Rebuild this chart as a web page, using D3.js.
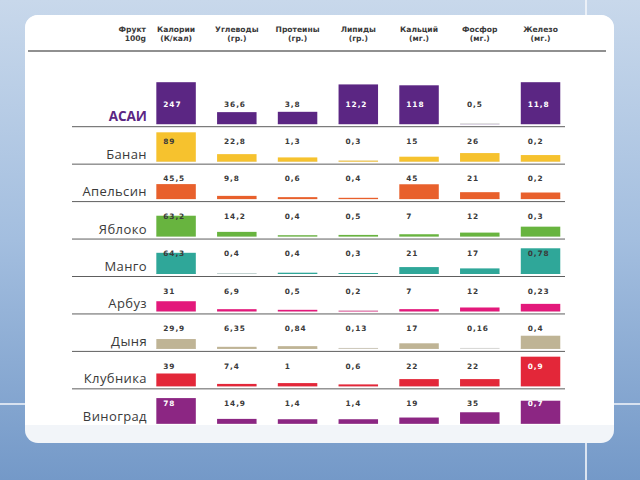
<!DOCTYPE html>
<html>
<head>
<meta charset="utf-8">
<script src="https://cdn.jsdelivr.net/npm/d3@7"></script>
<style>
  html, body { margin: 0; padding: 0; }
  body { width: 640px; height: 480px; overflow: hidden; }
</style>
</head>
<body>
<div id="chart"></div>
<script>
// data
var fruits = ["АСАИ", "Банан", "Апельсин", "Яблоко", "Манго", "Арбуз", "Дыня", "Клубника", "Виноград"];
var headers = [["Калории", "(К/кал)"], ["Углеводы", "(гр.)"], ["Протеины", "(гр.)"], ["Липиды", "(гр.)"],
               ["Кальций", "(мг.)"], ["Фосфор", "(мг.)"], ["Железо", "(мг.)"]];
var calories   = [247, 89, 45.5, 63.2, 64.3, 31, 29.9, 39, 78];
var carbs      = [36.6, 22.8, 9.8, 14.2, 0.4, 6.9, 6.35, 7.4, 14.9];
var protein    = [3.8, 1.3, 0.6, 0.4, 0.4, 0.5, 0.84, 1, 1.4];
var lipids     = [12.2, 0.3, 0.4, 0.5, 0.3, 0.2, 0.13, 0.6, 1.4];
var calcium    = [118, 15, 45, 7, 21, 7, 17, 22, 19];
var phosphorus = [0.5, 26, 21, 12, 17, 12, 0.16, 22, 35];
var iron       = [11.8, 0.2, 0.2, 0.3, 0.78, 0.23, 0.4, 0.9, 0.7];
var series = [calories, carbs, protein, lipids, calcium, phosphorus, iron];
// value that fills a normal row, per column
var scaleMax = [91, 91, 9.2, 9.2, 91, 91, 0.91];
var rowColors = ["#5b2683", "#f6c22e", "#e8602c", "#68b43f", "#2fa799", "#e3197b", "#bfb495", "#e32739", "#8c2683"];

var width = 640, height = 480;

var svg = d3.select("#chart").append("svg")
  .attr("width", width)
  .attr("height", height);

// background gradient
var defs = svg.append("defs");
var grad = defs.append("linearGradient").attr("id", "bg")
  .attr("x1", 0).attr("y1", 0).attr("x2", 0).attr("y2", 1);
grad.append("stop").attr("offset", "0%").attr("stop-color", "#c8d8eb");
grad.append("stop").attr("offset", "50%").attr("stop-color", "#a3bedf");
grad.append("stop").attr("offset", "100%").attr("stop-color", "#7499c8");
svg.append("rect").attr("width", width).attr("height", height).attr("fill", "url(#bg)");

// thin white frame lines behind the panel
svg.append("line").attr("x1", 586).attr("x2", 586).attr("y1", 0).attr("y2", height)
  .attr("stroke", "#f4f7fb").attr("stroke-width", 1.6);
svg.append("line").attr("x1", 0).attr("x2", width).attr("y1", 404).attr("y2", 404)
  .attr("stroke", "#f4f7fb").attr("stroke-width", 1.6);

// white panel
svg.append("rect").attr("x", 25).attr("y", 15).attr("width", 589).attr("height", 428)
  .attr("rx", 13).attr("fill", "#f2f5f9");
svg.append("path")
  .attr("d", "M25,28 a13,13 0 0 1 13,-13 H601 a13,13 0 0 1 13,13 V425 H25 Z")
  .attr("fill", "#ffffff");

// scales
var x = d3.scaleBand()
  .domain(d3.range(headers.length))
  .range([145.7, 570.9])
  .paddingInner(0.35)
  .paddingOuter(0.175);

var y = d3.scalePoint()
  .domain(fruits)
  .range([126.7, 426.3]);

var barScales = scaleMax.map(function(m) {
  return d3.scaleLinear().domain([0, m]).range([0, 30]);
});

function fmt(v) { return String(v).replace(".", ","); }

// header
var head = svg.append("g")
  .attr("font-family", "DejaVu Sans, sans-serif")
  .attr("font-weight", "bold")
  .attr("font-size", 7.6)
  .attr("fill", "#3a3a3a");

head.append("text").attr("x", 146).attr("y", 32).attr("text-anchor", "end").text("Фрукт");
head.append("text").attr("x", 146).attr("y", 41).attr("text-anchor", "end").text("100g");

headers.forEach(function(h, i) {
  var cx = x(i) + x.bandwidth() / 2;
  head.append("text").attr("x", cx).attr("y", 32).attr("text-anchor", "middle").text(h[0]);
  head.append("text").attr("x", cx).attr("y", 41).attr("text-anchor", "middle").text(h[1]);
});

svg.append("line").attr("x1", 28).attr("x2", 606).attr("y1", 51).attr("y2", 51)
  .attr("stroke", "#6b6b6b").attr("stroke-width", 1.4);

// row separators (none under the last row)
svg.selectAll(".sep")
  .data(fruits.slice(0, fruits.length - 1))
  .enter().append("line")
  .attr("class", "sep")
  .attr("x1", 72).attr("x2", 565)
  .attr("y1", d => y(d)).attr("y2", d => y(d))
  .attr("stroke", "#5e5e5e").attr("stroke-width", 1);

// row names
svg.selectAll(".name")
  .data(fruits)
  .enter().append("text")
  .attr("class", "name")
  .attr("x", 147)
  .attr("y", d => y(d) - 5.5)
  .attr("text-anchor", "end")
  .attr("font-family", "Open Sans, sans-serif")
  .attr("font-size", (d, i) => i === 0 ? 13.5 : 13)
  .attr("font-weight", (d, i) => i === 0 ? "bold" : "normal")
  .attr("letter-spacing", (d, i) => i === 0 ? 0 : 0.4)
  .attr("fill", (d, i) => i === 0 ? "#5b2683" : "#3a3a3a")
  .text(d => d);

// cells
var cells = [];
fruits.forEach(function(f, r) {
  series.forEach(function(s, c) {
    cells.push({ fruit: f, row: r, col: c, value: s[r] });
  });
});

var bottom = d => y(d.fruit) - 2.5;
var barH = d => Math.min(barScales[d.col](d.value), d.row === 0 ? 42 : 30);

// faint track under every bar
svg.selectAll(".track")
  .data(cells)
  .enter().append("rect")
  .attr("class", "track")
  .attr("x", d => x(d.col))
  .attr("y", d => bottom(d) - 1)
  .attr("width", x.bandwidth())
  .attr("height", 1)
  .attr("fill", "#d8d8d8");

svg.selectAll(".bar")
  .data(cells)
  .enter().append("rect")
  .attr("class", "bar")
  .attr("x", d => x(d.col))
  .attr("y", d => bottom(d) - barH(d))
  .attr("width", x.bandwidth())
  .attr("height", d => barH(d))
  .attr("fill", d => rowColors[d.row]);

svg.selectAll(".val")
  .data(cells)
  .enter().append("text")
  .attr("class", "val")
  .attr("x", d => x(d.col) + 7)
  .attr("y", d => y(d.fruit) - 20.2)
  .attr("font-family", "DejaVu Sans, sans-serif")
  .attr("font-weight", "bold")
  .attr("font-size", 7.4)
  .attr("letter-spacing", 0.9)
  .attr("fill", function(d) {
    var inside = bottom(d) - barH(d) < y(d.fruit) - 21;
    return inside && d3.lab(rowColors[d.row]).l < 55 ? "#ffffff" : "#3a3a3a";
  })
  .text(d => fmt(d.value));
</script>
</body>
</html>
